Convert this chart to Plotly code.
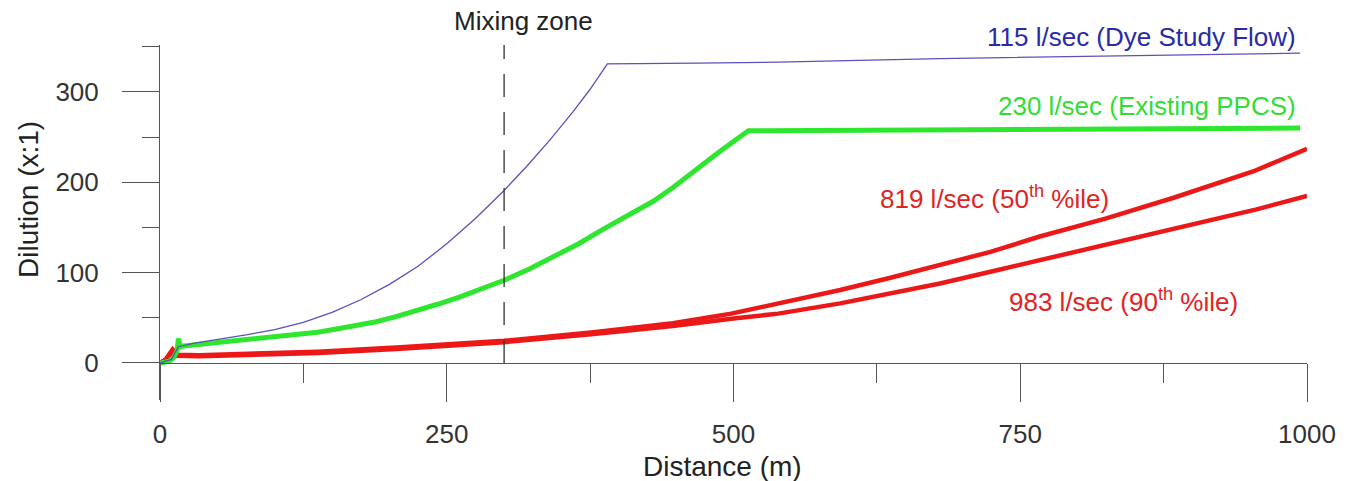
import plotly.graph_objects as go

# ---- data (distance in m, dilution x:1) ----
dist_115 = [0, 6, 10, 13, 16, 30, 50, 75, 100, 125, 150, 175, 200, 225, 250, 275, 300,
            320, 340, 360, 375, 390, 468, 539, 680, 994]
dil_115 = [0, 2, 4, 11, 18, 22, 26, 31, 37, 45, 56, 70, 87, 107, 132, 160, 191,
           218, 247, 278, 303, 331, 332, 333, 337, 343]

dist_230 = [0, 8, 12, 15, 16, 17.5, 19, 45, 89, 137.5, 160, 186, 205, 224, 242, 261, 280,
            300, 322, 344, 365, 385, 408, 430, 447, 464, 488, 513, 700, 994]
dil_230 = [0, 2, 6, 14, 27, 18, 18.5, 22, 27, 34, 39, 45, 51, 57.6, 65, 73, 82,
           91.5, 104, 118, 132, 147, 163, 179, 194, 211, 234, 257, 258, 260]

dist_819 = [0, 5, 11, 15, 34, 100, 137.5, 206, 300, 378, 447, 498, 539, 593, 636, 680,
            724, 767, 825, 883, 920, 953, 1000]
dil_819 = [0, 4, 15, 9, 8.5, 11, 12.5, 17, 24.5, 34, 44, 54.6, 65.7, 80.8, 94, 108,
           123, 140, 160, 182.6, 198, 212, 237]

dist_983 = [0, 5, 11, 15, 34, 100, 137.5, 206, 300, 378, 447, 498, 539, 593, 636, 680,
            724, 767, 825, 883, 920, 956, 1000]
dil_983 = [0, 3, 13, 8, 7.5, 10, 11, 15.5, 23, 32, 41, 49, 54.6, 66, 77, 88,
           101, 114, 131, 148, 159, 170, 185]

x_ticks = [0, 250, 500, 750, 1000]
x_minor = [125, 375, 625, 875]
y_ticks = [0, 100, 200, 300]
y_minor = [50, 150, 250, 350]
mixing_zone = 300

FONT = "Liberation Sans, Arial, sans-serif"
BLUE_LINE = "#5a52b8"
GREEN = "#2fe62f"
RED = "#ec1818"
AX = "#555555"

fig = go.Figure()
fig.add_trace(go.Scatter(x=dist_983, y=dil_983, mode="lines",
                         line=dict(color=RED, width=4.5), hoverinfo="skip"))
fig.add_trace(go.Scatter(x=dist_819, y=dil_819, mode="lines",
                         line=dict(color=RED, width=4.5), hoverinfo="skip"))
fig.add_trace(go.Scatter(x=dist_230, y=dil_230, mode="lines",
                         line=dict(color=GREEN, width=5), hoverinfo="skip"))
fig.add_trace(go.Scatter(x=dist_115, y=dil_115, mode="lines",
                         line=dict(color=BLUE_LINE, width=1.3), hoverinfo="skip"))

y_lo, y_hi = -41, 352

fig.add_shape(type="line", x0=mixing_zone, x1=mixing_zone, y0=0, y1=y_hi,
              xref="x", yref="y", line=dict(color="#333333", width=1.3, dash="23px,15px"))

def py(pix):
    # pixel row -> paper fraction (plot area from 45 to 400)
    return (400 - pix) / 355.0

annos = [
    dict(text="Mixing zone", x=316.5, y=py(21), color="#222222", xanchor="center", size=26),
    dict(text="115 l/sec (Dye Study Flow)", x=992, y=py(37), color="#2a2aa8", xanchor="right", size=26),
    dict(text="230 l/sec (Existing PPCS)", x=992, y=py(106), color="#33dd33", xanchor="right", size=26),
    dict(text="819 l/sec (50<sup>th</sup> %ile)", x=626, y=py(197), color="#e02424", xanchor="left", size=26),
    dict(text="983 l/sec (90<sup>th</sup> %ile)", x=738.5, y=py(300), color="#e02424", xanchor="left", size=26),
]
for a in annos:
    fig.add_annotation(text=a["text"], x=a["x"], y=a["y"], xref="x", yref="paper",
                       xanchor=a["xanchor"], yanchor="middle", showarrow=False,
                       font=dict(family=FONT, size=a["size"], color=a["color"]))

fig.add_annotation(text="Dilution (x:1)", x=(28 - 160) / 1147.0, y=py(200), xref="paper",
                   yref="paper", textangle=-90, showarrow=False, xanchor="center",
                   yanchor="middle", font=dict(family=FONT, size=28, color="#222222"))
fig.add_annotation(text="Distance (m)", x=(722 - 160) / 1147.0, y=py(466), xref="paper",
                   yref="paper", showarrow=False, xanchor="center", yanchor="middle",
                   font=dict(family=FONT, size=28, color="#222222"))

fig.update_layout(
    width=1351, height=481,
    margin=dict(l=160, r=44, t=45, b=81),
    paper_bgcolor="white", plot_bgcolor="white",
    showlegend=False,
    font=dict(family=FONT, color="#333333"),
    xaxis=dict(range=[0, 1000], anchor="free", position=(0 - y_lo) / (y_hi - y_lo),
               showline=True, linecolor=AX, linewidth=1, showgrid=False, zeroline=False,
               tickmode="array", tickvals=x_ticks, ticktext=[str(v) for v in x_ticks],
               ticks="outside", ticklen=38, tickcolor=AX, tickwidth=1,
               ticklabelstandoff=10,
               tickfont=dict(family=FONT, size=26, color="#333333"),
               minor=dict(tickmode="array", tickvals=x_minor, ticks="outside", ticklen=19,
                          tickcolor=AX, tickwidth=1, showgrid=False)),
    yaxis=dict(range=[y_lo, y_hi], showline=True, linecolor=AX, linewidth=1,
               showgrid=False, zeroline=False,
               tickmode="array", tickvals=y_ticks, ticktext=[str(v) for v in y_ticks],
               ticks="outside", ticklen=37, tickcolor=AX, tickwidth=1,
               ticklabelstandoff=18,
               tickfont=dict(family=FONT, size=26, color="#333333"),
               minor=dict(tickmode="array", tickvals=y_minor, ticks="outside", ticklen=17,
                          tickcolor=AX, tickwidth=1, showgrid=False)),
)

fig.write_html("out.html", config={"displayModeBar": False},
               post_script="document.body.style.margin='0px';")
